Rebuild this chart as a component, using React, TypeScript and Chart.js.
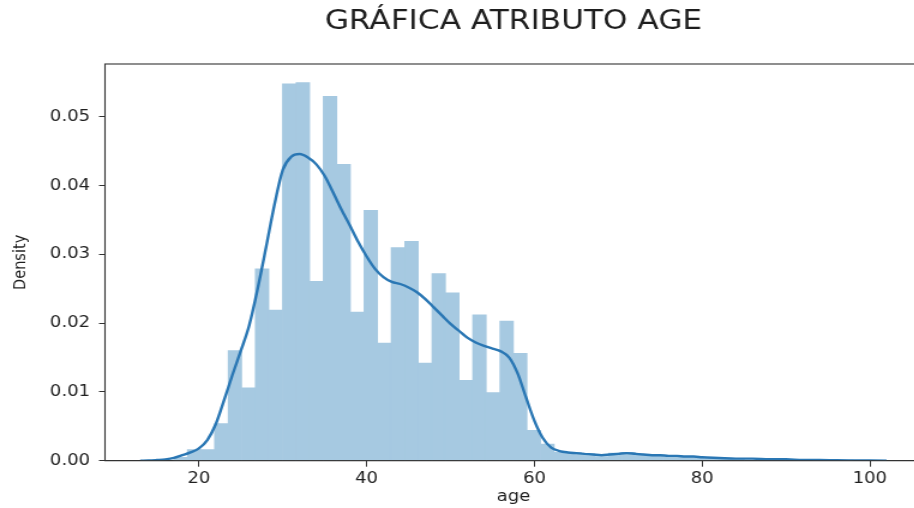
import { useEffect, useRef } from "react";
import { Chart, registerables } from "chart.js";

Chart.register(...registerables);

const TITLE = "GRÁFICA ATRIBUTO AGE";
const X_TITLE = "age";
const Y_TITLE = "Density";

// Histogram: 50 equal-width bins starting at age 17
const BIN_START = 17;
const BIN_WIDTH = 1.62;
const BIN_DENSITY = [
  0.0005, 0.0016, 0.0016, 0.0054, 0.016, 0.0106, 0.0279, 0.0219, 0.0548, 0.055,
  0.0261, 0.053, 0.0431, 0.0216, 0.0364, 0.0171, 0.031, 0.0319, 0.0142, 0.0272,
  0.0244, 0.0117, 0.0212, 0.0099, 0.0203, 0.0156, 0.0044, 0.0024, 0.0012, 0.0012,
  0.001, 0.0006, 0.0011, 0.0012, 0.0008, 0.0007, 0.0006, 0.0005, 0.0005, 0.0003,
  0.0002, 0.0002, 0.0001, 0.0001, 0.0001, 0.0001, 0.0001, 0.00005, 0.00003, 0.00003,
];

// Kernel density estimate of age
const KDE_AGE = [
  13, 14, 15, 16, 17, 18, 19, 20, 21, 22, 23, 24, 25, 26, 27, 28, 29, 30, 31, 32,
  33, 34, 35, 36, 37, 38, 39, 40, 41, 42, 43, 44, 45, 46, 47, 48, 49, 50, 51, 52,
  53, 54, 55, 56, 57, 58, 59, 60, 61, 62, 63, 64, 65, 66, 67, 68, 69, 70, 71, 72,
  73, 74, 75, 76, 77, 78, 79, 80, 82, 84, 86, 88, 90, 92, 94, 96, 98, 100, 102,
];
const KDE_DENSITY = [
  0.0, 0.00002, 0.0001, 0.0002, 0.0004, 0.0008, 0.0012, 0.0018, 0.003, 0.0053,
  0.0088, 0.0125, 0.016, 0.0197, 0.025, 0.031, 0.0372, 0.0423, 0.0442, 0.0446,
  0.0441, 0.0431, 0.0414, 0.039, 0.0365, 0.0342, 0.0318, 0.0297, 0.0279, 0.0267,
  0.026, 0.0257, 0.0252, 0.0245, 0.0235, 0.0223, 0.0211, 0.0199, 0.0189, 0.0179,
  0.0172, 0.0167, 0.0163, 0.0159, 0.015, 0.0127, 0.0092, 0.0058, 0.0033, 0.0019,
  0.0014, 0.0012, 0.0011, 0.001, 0.0009, 0.0008, 0.0009, 0.001, 0.0011, 0.001,
  0.0009, 0.0008, 0.0008, 0.0007, 0.0007, 0.0006, 0.0006, 0.0005, 0.0004, 0.0003,
  0.0003, 0.0002, 0.0002, 0.0001, 0.0001, 0.00006, 0.00004, 0.00002, 0.0,
];

const X_TICKS = [20, 40, 60, 80, 100];
const Y_TICKS = [0, 0.01, 0.02, 0.03, 0.04, 0.05];
const X_MIN = 8.8;
const X_MAX = 106.2;
const Y_MAX = 0.0577;

// Canvas is drawn narrower and widened with CSS
const CANVAS_W = 771;
const CANVAS_H = 508;
const STRETCH = 1.2;
const PLOT_LEFT = 87.5;
const PLOT_RIGHT = 768.4;
const PLOT_BOTTOM = 460.7;

const FONT = "'DejaVu Sans', 'Liberation Sans', sans-serif";
const TEXT_COLOR = "#1e1e1e";
const AXIS_COLOR = "#333333";
const KDE_COLOR = "#2a77b4";
const BAR_COLOR = "#a6c9e1";

export default function App() {
  const ref = useRef<HTMLCanvasElement>(null);

  useEffect(() => {
    const canvas = ref.current;
    if (!canvas) return;

    const binPoints = BIN_DENSITY.map((d, i) => ({
      x: BIN_START + BIN_WIDTH * (i + 0.5),
      y: d,
    }));
    const kdePoints = KDE_AGE.map((a, i) => ({ x: a, y: KDE_DENSITY[i] }));

    const frame = {
      id: "frame",
      afterDraw(chart: any) {
        const { ctx, chartArea: a } = chart;
        ctx.save();
        ctx.strokeStyle = AXIS_COLOR;
        ctx.lineWidth = 1.1;
        ctx.strokeRect(a.left, a.top, a.right - a.left, a.bottom - a.top);
        ctx.restore();
      },
    };

    const chart = new Chart(canvas, {
      type: "bar",
      data: {
        datasets: [
          {
            type: "line",
            data: kdePoints,
            borderColor: KDE_COLOR,
            borderWidth: 2.4,
            pointRadius: 0,
            cubicInterpolationMode: "monotone",
            fill: false,
            order: 0,
          } as any,
          {
            type: "bar",
            data: binPoints,
            backgroundColor: BAR_COLOR,
            borderWidth: 0,
            barPercentage: 1,
            categoryPercentage: 1,
            order: 1,
          } as any,
        ],
      },
      options: {
        responsive: false,
        animation: false,
        devicePixelRatio: 1,
        events: [],
        layout: {
          padding: { left: 0, right: CANVAS_W - PLOT_RIGHT, top: 0, bottom: 0 },
        },
        plugins: {
          legend: { display: false },
          tooltip: { enabled: false },
          title: {
            display: true,
            text: TITLE,
            fullSize: false,
            color: TEXT_COLOR,
            font: { family: FONT, size: 26, weight: "normal" },
            padding: { top: 6.4, bottom: 26.4 },
          },
        },
        scales: {
          x: {
            type: "linear",
            min: X_MIN,
            max: X_MAX,
            offset: false,
            afterBuildTicks: (s: any) => {
              s.ticks = X_TICKS.map((v) => ({ value: v }));
            },
            afterFit: (s: any) => {
              s.height = CANVAS_H - PLOT_BOTTOM;
            },
            ticks: {
              color: TEXT_COLOR,
              font: { family: FONT, size: 15 },
              padding: 3.3,
              maxRotation: 0,
              autoSkip: false,
              callback: (v: any) => String(v),
            },
            grid: {
              display: true,
              offset: false,
              drawOnChartArea: false,
              drawTicks: true,
              tickLength: 6,
              tickColor: AXIS_COLOR,
              tickWidth: 1,
            },
            border: { display: true, color: AXIS_COLOR, width: 1 },
            title: {
              display: true,
              text: X_TITLE,
              color: TEXT_COLOR,
              font: { family: FONT, size: 15 },
              padding: { top: 0, bottom: 2 },
            },
          },
          y: {
            type: "linear",
            min: 0,
            max: Y_MAX,
            afterBuildTicks: (s: any) => {
              s.ticks = Y_TICKS.map((v) => ({ value: v }));
            },
            afterFit: (s: any) => {
              s.width = PLOT_LEFT;
            },
            ticks: {
              color: TEXT_COLOR,
              font: { family: FONT, size: 15 },
              padding: 7.5,
              callback: (v: any) => Number(v).toFixed(2),
            },
            grid: {
              display: true,
              offset: false,
              drawOnChartArea: false,
              drawTicks: true,
              tickLength: 5,
              tickColor: AXIS_COLOR,
              tickWidth: 1,
            },
            border: { display: true, color: AXIS_COLOR, width: 1 },
            title: {
              display: true,
              text: Y_TITLE,
              color: TEXT_COLOR,
              font: { family: FONT, size: 14.5 },
              padding: { top: 8.4, bottom: 0 },
            },
          },
        },
      },
      plugins: [frame],
    });

    return () => chart.destroy();
  }, []);

  return (
    <div
      style={{
        position: "fixed",
        left: 0,
        top: 0,
        width: 914,
        height: 508,
        overflow: "hidden",
        background: "#ffffff",
      }}
    >
      <canvas
        ref={ref}
        width={CANVAS_W}
        height={CANVAS_H}
        style={{
          display: "block",
          width: `${CANVAS_W * STRETCH}px`,
          height: `${CANVAS_H}px`,
        }}
      />
    </div>
  );
}
